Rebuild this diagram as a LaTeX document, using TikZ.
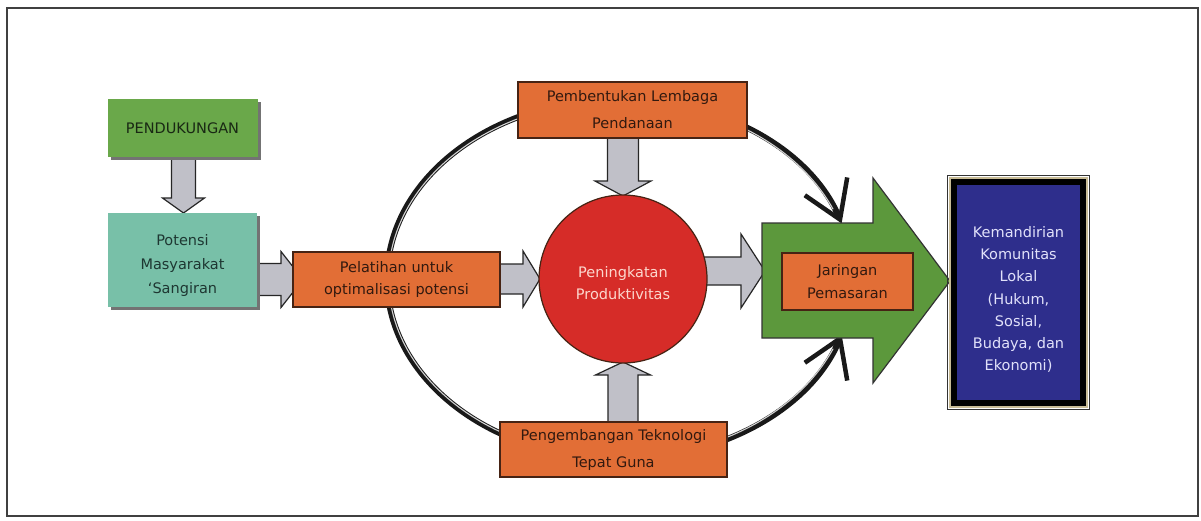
\documentclass[tikz,border=0pt]{standalone}
\usepackage{fontspec}
\setmainfont{DejaVu Sans}
\usetikzlibrary{arrows.meta,shadows,calc}
\pgfdeclarelayer{background}
\pgfdeclarelayer{paper}
\pgfsetlayers{paper,background,main}
\definecolor{boxgreen}{RGB}{106,168,74}
\definecolor{boxteal}{RGB}{120,192,168}
\definecolor{boxorange}{RGB}{226,110,54}
\definecolor{circred}{RGB}{214,44,40}
\definecolor{arrowgreen}{RGB}{92,152,60}
\definecolor{navybox}{RGB}{46,46,140}
\definecolor{arrowgray}{RGB}{192,192,200}
\definecolor{otext}{RGB}{50,25,15}
\definecolor{gtext}{RGB}{25,40,20}
\definecolor{ttext}{RGB}{30,55,50}
\definecolor{circtext}{RGB}{252,215,205}
\definecolor{kemtext}{RGB}{225,225,250}
\definecolor{tanline}{RGB}{200,188,150}
\definecolor{obord}{RGB}{70,35,20}
\newcommand\harrow[5]{%
  \draw[barrow] let \p1=(#1), \p2=(#2) in
   (\x1,\y2+#3) -- (\x2-#5,\y2+#3) -- (\x2-#5,\y2+#4) -- (\x2,\y2) --
   (\x2-#5,\y2-#4) -- (\x2-#5,\y2-#3) -- (\x1,\y2-#3) -- cycle;}
\newcommand\varrow[5]{%
  \draw[barrow] let \p1=(#1), \p2=(#2), \n1={sign(\y2-\y1)} in
   (\x2+#3,\y1) -- (\x2+#3,\y2-\n1*#5) -- (\x2+#4,\y2-\n1*#5) -- (\x2,\y2) --
   (\x2-#4,\y2-\n1*#5) -- (\x2-#3,\y2-\n1*#5) -- (\x2-#3,\y1) -- cycle;}
\begin{document}
\begin{tikzpicture}[x=1pt,y=-1pt,
  every node/.style={outer sep=0pt, align=center, inner sep=2pt,
    font=\fontsize{14.5}{22.5}\selectfont},
  obox/.style={draw=obord, line width=1.2pt, fill=boxorange, text=otext},
  barrow/.style={draw=black!85, line width=1.2pt, fill=arrowgray, line join=miter},
  ringline/.style={line width=6pt, draw=black!90},
  ringhl/.style={line width=1.1pt, draw=gray!35},
  ringtip/.style={-{Straight Barb[length=36pt,width=46pt,line width=4.5pt]}},
  shadowbox/.style={drop shadow={shadow xshift=3pt, shadow yshift=-3pt, fill=black!55, opacity=1}}
]
\useasboundingbox (0,0) rectangle (1201,520);
\begin{pgfonlayer}{paper}
\fill[white] (0,0) rectangle (1201,520);
\end{pgfonlayer}
\draw[line width=2pt, black!75] (7,8) rectangle (1198,516);

% nodes
\node[shadowbox, fill=boxgreen, text=gtext, minimum width=150, minimum height=58] (pend) at (182.5,128) {PENDUKUNGAN};
\node[shadowbox, fill=boxteal, text=ttext, minimum width=149, minimum height=94] (pot) at (182.5,260) {};
\node[text=ttext, font=\fontsize{14.5}{24}\selectfont] (potlabel) at ($(pot.center)+(0,5)$) {Potensi\\Masyarakat\\`Sangiran};
\node[obox, minimum width=207, minimum height=55] (pel) at (396.5,279.5) {Pelatihan untuk\\optimalisasi potensi};
\node[obox, minimum width=229, minimum height=56, font=\fontsize{14.5}{27}\selectfont] (pemb) at (632.5,110) {Pembentukan Lembaga\\Pendanaan};
\node[obox, minimum width=227, minimum height=55, font=\fontsize{14.5}{27}\selectfont] (peng) at (613.5,449.5) {Pengembangan Teknologi\\Tepat Guna};
\node[circle, minimum size=168, fill=circred, draw=obord, line width=1.2pt] (circ) at (623,279) {};
\node[text=circtext] (circlabel) at ($(circ.center)+(0,4)$) {Peningkatan\\Produktivitas};

% big green arrow with Jaringan box
\draw[fill=arrowgreen, draw=black!80, line width=1.2pt] (762,223) -- (873,223) -- (873,178) -- (950,281) -- (873,383) -- (873,338) -- (762,338) -- cycle;
\coordinate (gtail) at (765,271);
\node[obox, minimum width=131, minimum height=57] (jar) at (847.5,281.5) {Jaringan\\Pemasaran};

% Kemandirian box
\node[fill=navybox, draw=black, line width=6pt, minimum width=129, minimum height=221] (kem) at (1018.5,292.5) {};
\node[text=kemtext, font=\fontsize{14.5}{22.2}\selectfont] (kemlabel) at ($(kem.center)+(0,7)$)
  {Kemandirian\\Komunitas\\Lokal\\(Hukum,\\Sosial,\\Budaya, dan\\Ekonomi)};
\draw[draw=tanline, line width=2pt] ($(kem.north west)+(-4,-4)$) rectangle ($(kem.south east)+(4,4)$);
\draw[draw=black!80, line width=1pt] ($(kem.north west)+(-6.5,-6.5)$) rectangle ($(kem.south east)+(6.5,6.5)$);

\begin{pgfonlayer}{background}
  % ring
  \coordinate (ringc) at (620,279);
  \draw[ringline, ringtip] ($(ringc)+(-233,0)$) arc[start angle=180, end angle=342, x radius=233, y radius=180];
  \draw[ringline, ringtip] ($(ringc)+(-233,0)$) arc[start angle=180, end angle=18, x radius=233, y radius=180];
  \draw[ringhl] ($(ringc)+(-231.5,0)$) arc[start angle=180, end angle=337, x radius=231.5, y radius=178.5];
  \draw[ringhl] ($(ringc)+(-231.5,0)$) arc[start angle=180, end angle=23, x radius=231.5, y radius=178.5];
  % block arrows
  \varrow{$(pend.south)+(1,0)$}{$(pot.north)+(1,0)$}{12pt}{21pt}{15pt}
  \harrow{pot.east |- pel.west}{$(pel.west)+(10,0)$}{16pt}{28pt}{22pt}
  \harrow{pel.east}{$(circ.west)+(1,0)$}{15pt}{28pt}{17pt}
  \varrow{circ.north |- pemb.south}{$(circ.north)+(0,1)$}{15.5pt}{28pt}{15pt}
  \varrow{circ.south |- peng.north}{$(circ.south)+(0,-1)$}{15pt}{27.5pt}{13pt}
  \harrow{$(circ.east)+(-4,-8)$}{gtail}{14pt}{37pt}{24pt}
\end{pgfonlayer}
\end{tikzpicture}
\end{document}
